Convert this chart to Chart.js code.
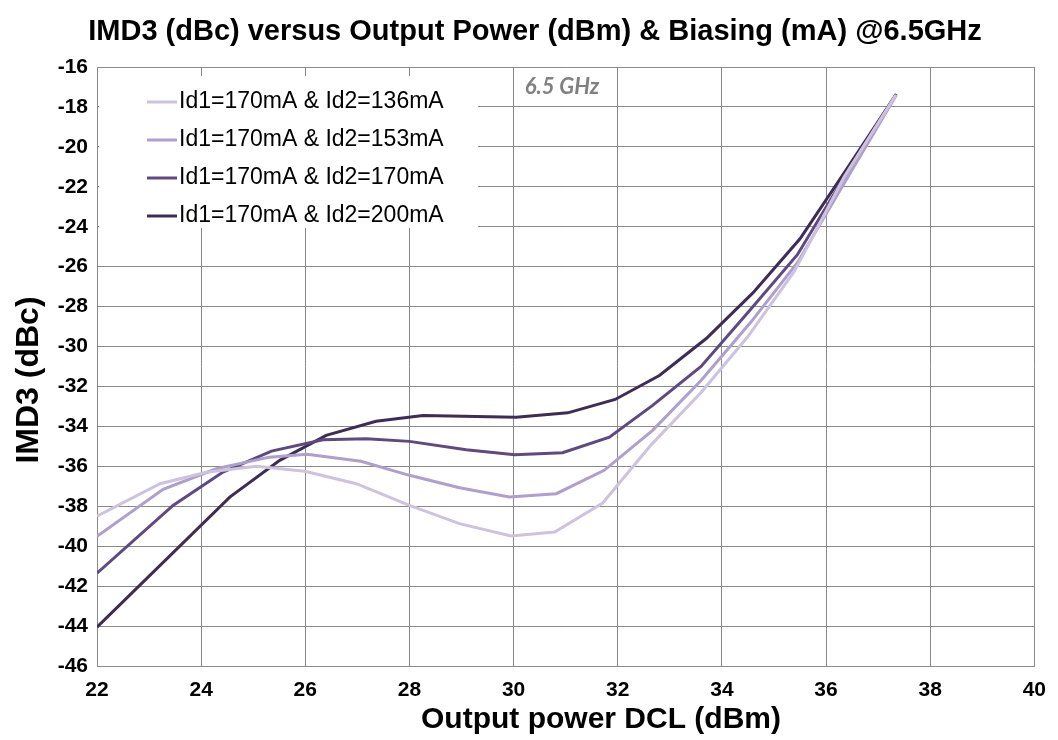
<!DOCTYPE html>
<html>
<head>
<meta charset="utf-8">
<script src="https://cdn.jsdelivr.net/npm/chart.js@4/dist/chart.umd.min.js"></script>
<style>
  body { margin: 0; background: #fff; }
  canvas { display: block; }
</style>
</head>
<body>
<canvas id="imdChart" width="1058" height="740"></canvas>
<script>
const chartTitle = "IMD3 (dBc) versus Output Power (dBm) & Biasing (mA) @6.5GHz";
const xTitle = "Output power DCL (dBm)";
const yTitle = "IMD3 (dBc)";
const noteText = "6.5 GHz";
const seriesLabels = [
  "Id1=170mA & Id2=136mA",
  "Id1=170mA & Id2=153mA",
  "Id1=170mA & Id2=170mA",
  "Id1=170mA & Id2=200mA"
];
const seriesColors = ["#cdc3df", "#ae9fcc", "#5e4a80", "#3d2d56"];

// output power (dBm) and IMD3 (dBc) per bias point
const pout136 = [22, 23.21, 24.1, 25.06, 25.99, 26.98, 28.0, 28.96, 29.95, 30.79, 31.71, 32.65, 33.6, 34.5, 35.4, 36.35, 37.34];
const imd136  = [-38.5, -36.87, -36.3, -36.0, -36.25, -36.87, -37.96, -38.87, -39.49, -39.29, -37.84, -34.9, -32.3, -29.5, -26.2, -21.5, -17.4];

const pout153 = [22, 23.27, 24.29, 25.31, 26.03, 27.07, 28.0, 28.96, 29.92, 30.82, 31.74, 32.67, 33.6, 34.55, 35.45, 36.4, 37.35];
const imd153  = [-39.5, -37.15, -36.12, -35.54, -35.4, -35.75, -36.45, -37.07, -37.54, -37.37, -36.2, -34.2, -31.7, -28.8, -25.8, -21.6, -17.4];

const pout170 = [22, 23.46, 24.42, 25.35, 26.34, 27.17, 28.0, 29.09, 30.02, 30.94, 31.84, 32.67, 33.6, 34.5, 35.45, 36.4, 37.35];
const imd170  = [-41.35, -37.96, -36.29, -35.24, -34.67, -34.62, -34.75, -35.17, -35.42, -35.32, -34.54, -32.95, -31.0, -28.3, -25.4, -21.3, -17.35];

const pout200 = [22, 24.55, 25.51, 26.4, 27.36, 28.26, 30.05, 31.04, 31.95, 32.8, 33.7, 34.6, 35.5, 36.4, 37.34];
const imd200  = [-44.05, -37.54, -35.7, -34.45, -33.74, -33.45, -33.54, -33.32, -32.65, -31.45, -29.6, -27.3, -24.6, -21.1, -17.4];

const powers = [pout136, pout153, pout170, pout200];
const imds = [imd136, imd153, imd170, imd200];

const gridGray = "#8a8a8a";
const fontFam = "'Liberation Sans', Arial, sans-serif";

function toPoints(xs, ys) {
  return xs.map((x, i) => ({ x: x, y: ys[i] }));
}

// titles, legend patch and frequency note drawn by hand
const decorations = {
  id: "decorations",
  beforeDatasetsDraw(chart) {
    const ctx = chart.ctx;
    ctx.save();
    ctx.fillStyle = "#fff";
    ctx.fillRect(99, 76, 379, 152);
    ctx.font = "23px " + fontFam;
    ctx.textBaseline = "middle";
    ctx.textAlign = "left";
    chart.data.datasets.forEach((ds, i) => {
      const y = 102 + i * 38;
      ctx.strokeStyle = ds.borderColor;
      ctx.lineWidth = 3;
      ctx.beginPath();
      ctx.moveTo(147, y);
      ctx.lineTo(177, y);
      ctx.stroke();
      ctx.fillStyle = "#000";
      ctx.fillText(ds.label, 179, y);
    });
    ctx.font = "italic bold 22px Lato, sans-serif";
    ctx.fillStyle = "#808080";
    ctx.textAlign = "center";
    ctx.fillText(noteText, 562, 87);
    ctx.restore();
  },
  afterDraw(chart) {
    const ctx = chart.ctx;
    ctx.save();
    ctx.fillStyle = "#000";
    ctx.textAlign = "center";
    ctx.textBaseline = "middle";
    ctx.font = "bold 29px " + fontFam;
    ctx.fillText(chartTitle, 535, 32);
    ctx.font = "bold 30px " + fontFam;
    ctx.fillText(xTitle, 601, 720);
    ctx.translate(29, 380);
    ctx.rotate(-Math.PI / 2);
    ctx.font = "bold 32px " + fontFam;
    ctx.fillText(yTitle, 0, 0);
    ctx.restore();
  }
};

new Chart(document.getElementById("imdChart"), {
  type: "scatter",
  data: {
    datasets: seriesLabels.map((label, i) => ({
      label: label,
      data: toPoints(powers[i], imds[i]),
      showLine: true,
      borderColor: seriesColors[i],
      backgroundColor: seriesColors[i],
      borderWidth: 3,
      pointRadius: 0,
      tension: 0
    }))
  },
  options: {
    responsive: false,
    animation: false,
    layout: { padding: { left: 0, right: 23, top: 67, bottom: 0 } },
    plugins: {
      legend: { display: false },
      tooltip: { enabled: false }
    },
    scales: {
      x: {
        type: "linear",
        min: 22,
        max: 40,
        afterFit: s => { s.height = 74; },
        ticks: {
          stepSize: 2,
          padding: 12,
          color: "#000",
          font: { family: fontFam, size: 21, weight: "bold" }
        },
        grid: { color: gridGray, lineWidth: 1, drawTicks: false },
        border: { color: gridGray, width: 1 }
      },
      y: {
        type: "linear",
        min: -46,
        max: -16,
        afterFit: s => { s.width = 97; },
        ticks: {
          stepSize: 2,
          padding: 9,
          color: "#000",
          font: { family: fontFam, size: 21, weight: "bold" }
        },
        grid: { color: gridGray, lineWidth: 1, drawTicks: false },
        border: { color: gridGray, width: 1 }
      }
    }
  },
  plugins: [decorations]
});
</script>
</body>
</html>
